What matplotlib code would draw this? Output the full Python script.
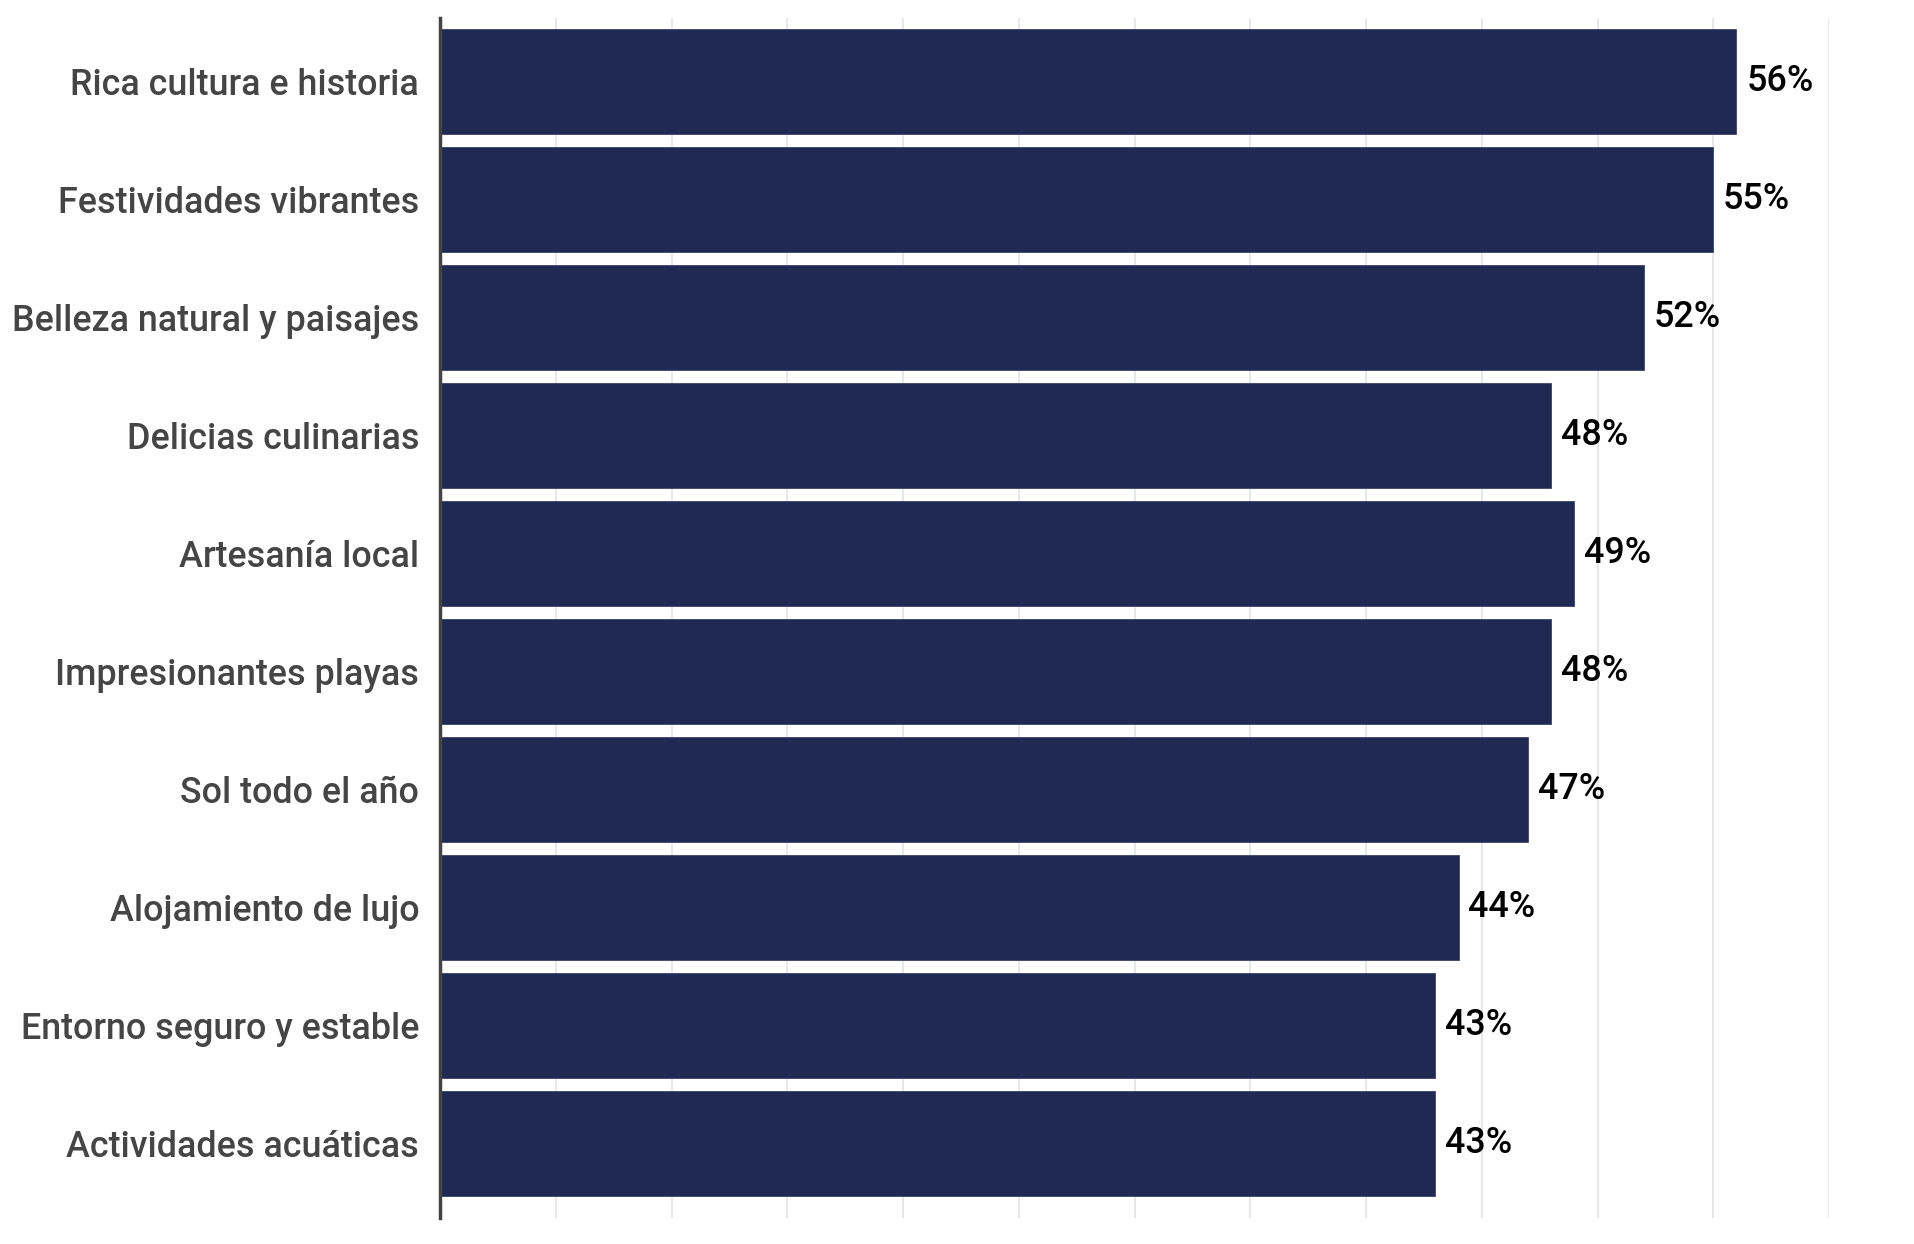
import matplotlib
matplotlib.use("Agg")
import matplotlib.pyplot as plt

# data
categories = ['Rica cultura e historia', 'Festividades vibrantes',
              'Belleza natural y paisajes', 'Delicias culinarias',
              'Artesanía local', 'Impresionantes playas', 'Sol todo el año',
              'Alojamiento de lujo', 'Entorno seguro y estable',
              'Actividades acuáticas']
values = [56, 55, 52, 48, 49, 48, 47, 44, 43, 43]
value_labels = [f'{v}%' for v in values]

plt.rcParams['font.family'] = ['Roboto', 'DejaVu Sans']

fig = plt.figure(figsize=(19.14, 12.44), dpi=100)
ax = fig.add_axes([0.2299, 0.0209, 0.9556 - 0.2299, 0.9855 - 0.0209])

ypos = list(range(len(categories)))
ax.barh(ypos, values, height=0.89, color='#1f2951', edgecolor='#3a4468',
        linewidth=0.6, zorder=3)

for y, v, lab in zip(ypos, values, value_labels):
    ax.annotate(lab, (v, y), xytext=(7, 0), textcoords='offset points',
                va='center', ha='left', fontsize=25.8, color='black',
                fontweight='medium')

ax.set_xlim(0, 60)
ax.set_ylim(9.63, -0.54)
ax.set_xticks(range(0, 61, 5))
ax.set_xticklabels([])
ax.tick_params(axis='x', length=0)
ax.grid(axis='x', color='#e8e8e8', linewidth=1.5, zorder=0)

ax.set_yticks(ypos)
ax.set_yticklabels(categories, fontsize=25.8, color='#454545', fontweight='medium')
ax.tick_params(axis='y', length=0, pad=15)

for s in ['top', 'right', 'bottom']:
    ax.spines[s].set_visible(False)
ax.spines['left'].set_color('#444444')
ax.spines['left'].set_linewidth(2.5)
ax.spines['left'].set_zorder(4)

fig.savefig('out.png', dpi=100)
